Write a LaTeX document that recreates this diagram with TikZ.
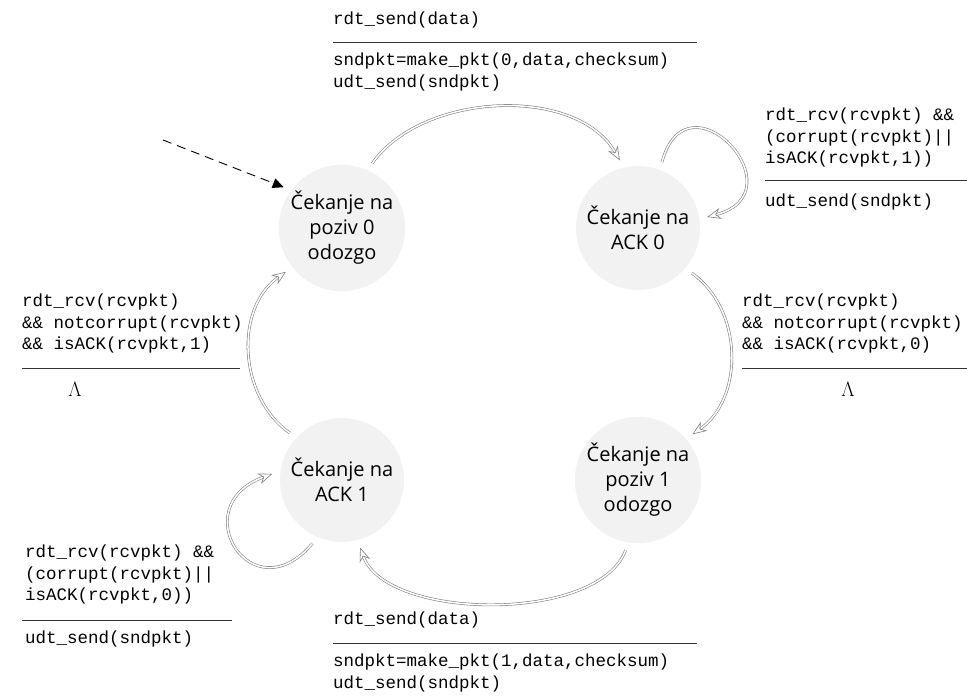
\documentclass[tikz,border=0pt]{standalone}
\usepackage{fontspec}
\newfontfamily\statefont{Open Sans}
\newfontfamily\codefont{Liberation Mono}
\usetikzlibrary{arrows.meta}
\begin{document}
\begin{tikzpicture}[x=1pt,y=1pt,
  state/.style={circle, fill=black!5, minimum size=124pt, inner sep=0pt,
    outer sep=8pt, align=center, font=\statefont\fontsize{20}{25}\selectfont},
  code/.style={anchor=north west, inner sep=0pt, align=left,
    font=\codefont\fontsize{17.5}{21.5}\selectfont},
  lam/.style={inner sep=0pt, font=\fontsize{21}{21}\selectfont},
  trans/.style={draw=black!50, double=white, double distance=1.5pt,
    line width=0.6pt, -{Stealth[open, length=14pt, width=11pt]}},
  init/.style={dash pattern=on 9pt off 6pt, line width=0.9pt,
    -{Triangle[length=11pt, width=10pt]}},
  rule/.style={line width=0.8pt, black!80}
]
\useasboundingbox (0,0) rectangle (967,-697);

% states
\node[state] (s0) at (342,-228) {Čekanje na\\poziv 0\\odozgo};
\node[state] (a0) at (638,-228) {Čekanje na\\ACK 0};
\node[state] (s1) at (638,-480) {Čekanje na\\poziv 1\\odozgo};
\node[state] (a1) at (342,-480) {Čekanje na\\ACK 1};

% initial transition
\coordinate (start) at (163,-140);
\draw[init] (start) -- (s0.145);

% transitions
\draw[trans] (s0.65) to[out=55, in=120, looseness=0.9] (a0.105);
\draw[trans] (a0.70) to[out=75, in=15, looseness=3.5] (a0.9);
\draw[trans] (a0.-40) to[out=-35, in=35] (s1.40);
\draw[trans] (s1.-100) to[out=-110, in=-70, looseness=0.75] (a1.-75);
\draw[trans] (a1.-115) to[out=-130, in=200, looseness=3] (a1.175);
\draw[trans] (a1.138) to[out=145, in=-145] (s0.-142);

% transition labels: top
\node[code] (tg) at (333,-12) {rdt\_send(data)};
\draw[rule] (333,-42) -- (697,-42);
\node[code] (ta) at (333,-53) {sndpkt=make\_pkt(0,data,checksum)\\udt\_send(sndpkt)};

% self loop on ACK 0
\node[code] (rg) at (765,-108) {rdt\_rcv(rcvpkt) \&\&\\(corrupt(rcvpkt)||\\isACK(rcvpkt,1))};
\draw[rule] (765,-180) -- (967,-180);
\node[code] (ra) at (765,-194) {udt\_send(sndpkt)};

% right side
\node[code] (mg) at (742,-294) {rdt\_rcv(rcvpkt)\\\&\& notcorrupt(rcvpkt)\\\&\& isACK(rcvpkt,0)};
\draw[rule] (742,-368) -- (967,-368);
\node[lam] (ml) at (848,-389) {$\Lambda$};

% left side
\node[code] (lg) at (22,-294) {rdt\_rcv(rcvpkt)\\\&\& notcorrupt(rcvpkt)\\\&\& isACK(rcvpkt,1)};
\draw[rule] (22,-368) -- (240,-368);
\node[lam] (ll) at (75,-389) {$\Lambda$};

% self loop on ACK 1
\node[code] (bg) at (25,-545) {rdt\_rcv(rcvpkt) \&\&\\(corrupt(rcvpkt)||\\isACK(rcvpkt,0))};
\draw[rule] (22,-620) -- (232,-620);
\node[code] (ba) at (25,-631) {udt\_send(sndpkt)};

% bottom
\node[code] (dg) at (333,-612) {rdt\_send(data)};
\draw[rule] (333,-643) -- (697,-643);
\node[code] (da) at (333,-654) {sndpkt=make\_pkt(1,data,checksum)\\udt\_send(sndpkt)};
\end{tikzpicture}
\end{document}
